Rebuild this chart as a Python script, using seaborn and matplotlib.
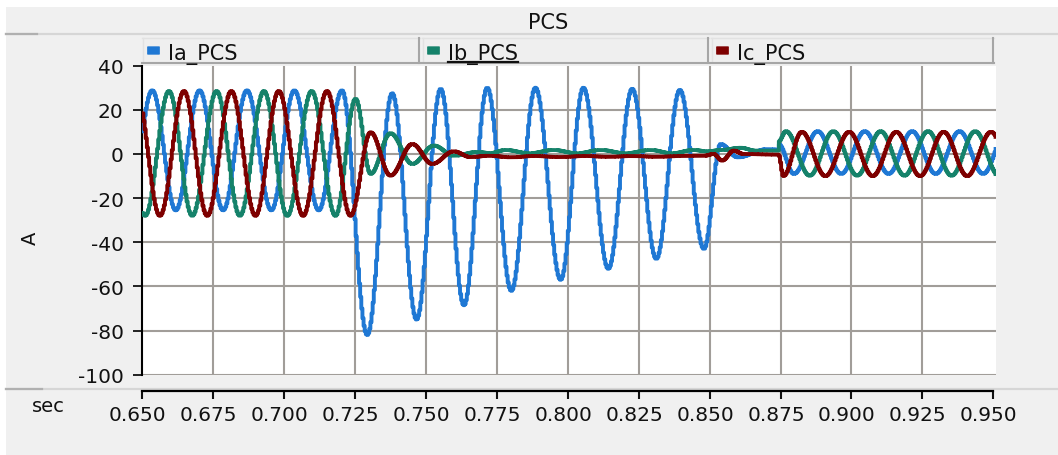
import numpy as np
import pandas as pd
import matplotlib
matplotlib.use("Agg")
import matplotlib.pyplot as plt
from matplotlib.patches import Rectangle, FancyBboxPatch
from matplotlib.lines import Line2D
from matplotlib.transforms import ScaledTranslation
import seaborn as sns

# ---------------------------------------------------------------------------
# PCS phase currents: turning points of each waveform (time in s, current in A)
# A repeated time marks a step change (the restart of the converter).
# ---------------------------------------------------------------------------
ia_t = [0.6450, 0.6533, 0.6616, 0.6700, 0.6783, 0.6867, 0.6953, 0.7034, 0.7120, 0.7202,
        0.7291, 0.7379, 0.7465, 0.7550, 0.7632, 0.7714, 0.7799, 0.7884, 0.7973, 0.8053,
        0.8141, 0.8225, 0.8310, 0.8393, 0.8478,
        0.8537, 0.8597, 0.8702, 0.8741,
        0.8741, 0.8795, 0.8879, 0.8962, 0.9045, 0.9129, 0.9212, 0.9295, 0.9379, 0.9462, 0.9545]
ia_v = [-25.5, 28.8, -25.5, 28.8, -25.5, 28.8, -25.5, 28.8, -25.5, 28.8,
        -82.0, 27.5, -75.0, 29.5, -68.5, 30.0, -62.0, 30.0, -57.0, 30.0,
        -52.0, 29.5, -47.5, 29.0, -43.0,
        4.5, -1.5, 2.2, 2.0,
        4.5, -9.0, 10.3, -9.0, 10.3, -9.0, 10.3, -9.0, 10.3, -9.0, 10.3]

ib_t = [0.6425, 0.6508, 0.6592, 0.6674, 0.6760, 0.6842, 0.6927, 0.7009, 0.7095, 0.7179,
        0.7250, 0.7303, 0.7373, 0.7450, 0.7526, 0.7596, 0.7679, 0.7725, 0.7779, 0.7863,
        0.7948, 0.8031, 0.8114, 0.8202, 0.8290, 0.8366, 0.8441, 0.8490, 0.8540, 0.8607,
        0.8660, 0.8741,
        0.8741, 0.8767, 0.8851, 0.8934, 0.9018, 0.9101, 0.9185, 0.9268, 0.9351, 0.9434, 0.9518]
ib_v = [28.5, -28.0, 28.5, -28.0, 28.5, -28.0, 28.5, -28.0, 28.5, -28.0,
        25.0, -9.0, 9.4, -4.5, 3.8, -0.8, 0.9, 0.4, 1.8, 0.3,
        1.8, 0.3, 1.8, 0.3, 1.8, 0.3, 1.8, 1.2, 1.8, 2.8,
        1.5, 1.5,
        5.6, 10.3, -9.8, 10.3, -9.8, 10.3, -9.8, 10.3, -9.8, 10.3, -9.8]

ic_t = [0.6477, 0.6560, 0.6645, 0.6727, 0.6812, 0.6897, 0.6979, 0.7065, 0.7149, 0.7232,
        0.7303, 0.7373, 0.7450, 0.7520, 0.7596, 0.7655, 0.7720, 0.7800, 0.7880, 0.7970,
        0.8060, 0.8140, 0.8230, 0.8310, 0.8400, 0.8480, 0.8512, 0.8542, 0.8583, 0.8618,
        0.8741, 0.8758, 0.8823, 0.8906, 0.8990, 0.9073, 0.9156, 0.9240, 0.9323, 0.9406,
        0.9490, 0.9573]
ic_v = [28.5, -28.0, 28.5, -28.0, 28.5, -28.0, 28.5, -28.0, 28.5, -28.0,
        9.8, -9.8, 4.5, -4.5, 1.2, -1.4, -0.8, -1.5, -0.9, -1.4,
        -0.9, -1.3, -0.9, -1.3, -0.9, -0.8, 0.0, -3.0, 1.5, 0.0,
        -0.3, -10.0, 10.0, -10.0, 10.0, -10.0, 10.0, -10.0, 10.0, -10.0,
        10.0, -10.0]

series_names = ["Ia_PCS", "Ib_PCS", "Ic_PCS"]
series_colors = ["#1f78d4", "#15826a", "#7e0000"]
x_ticks = [0.650, 0.675, 0.700, 0.725, 0.750, 0.775, 0.800, 0.825, 0.850, 0.875, 0.900, 0.925, 0.950]
y_ticks = [-100, -80, -60, -40, -20, 0, 20, 40]

# plot sample step of the recorded channel
dt = 0.0004
t_grid = 0.65 + np.arange(int(round(0.301 / dt)) + 1) * dt


def trace(knot_t, knot_v, t):
    """Half-cosine path through the turning points, evaluated on the sample grid."""
    kt = np.asarray(knot_t, dtype=float)
    kv = np.asarray(knot_v, dtype=float)
    idx = np.clip(np.searchsorted(kt, t, side="right") - 1, 0, len(kt) - 2)
    t0, t1 = kt[idx], kt[idx + 1]
    v0, v1 = kv[idx], kv[idx + 1]
    span = np.where(t1 > t0, t1 - t0, 1.0)
    frac = np.clip((t - t0) / span, 0.0, 1.0)
    return v0 + (v1 - v0) * (1.0 - np.cos(np.pi * frac)) / 2.0


frames = []
for name, kt, kv in zip(series_names, [ia_t, ib_t, ic_t], [ia_v, ib_v, ic_v]):
    frames.append(pd.DataFrame({"t": t_grid, "A": trace(kt, kv, t_grid), "phase": name}))
df = pd.concat(frames, ignore_index=True)

# ---------------------------------------------------------------------------
W, H = 1058, 456
FS_TICK = 14.5
FS_HEAD = 15
FS_AXIS = 14
TXT = "#111111"
fig = plt.figure(figsize=(W / 100, H / 100), dpi=100, facecolor="white")


def fx(x):
    return x / W


def fy(y):
    return 1 - y / H


# panel background
fig.patches.append(Rectangle((fx(6), 0), 1 - fx(6), fy(8), transform=fig.transFigure,
                             facecolor="#f0f0f0", edgecolor="none", zorder=-10))
# separators under the title band and above the time axis
for yy, dark_end in [(35, 37), (389.5, 42)]:
    fig.add_artist(Line2D([fx(6), 1], [fy(yy), fy(yy)], color="#d6d6d6", lw=1.6, zorder=-5))
    fig.add_artist(Line2D([fx(6), fx(dark_end)], [fy(yy), fy(yy)], color="#b0b0b0", lw=1.6, zorder=-5))

fig.text(fx(548), fy(29), "PCS", ha="center", va="baseline", fontsize=FS_HEAD, color=TXT)

# legend buttons
legend_boxes = [(142, 420), (422, 709), (711, 994)]
legend_texts = []
for (x0, x1), name, col in zip(legend_boxes, series_names, series_colors):
    fig.patches.append(Rectangle((fx(x0), fy(64)), fx(x1 - x0), (64 - 38) / H,
                                 transform=fig.transFigure, facecolor="#efefef",
                                 edgecolor="none", zorder=1))
    fig.add_artist(Line2D([fx(x0), fx(x1)], [fy(38.5), fy(38.5)], color="#e2e2e2", lw=1.0))
    fig.add_artist(Line2D([fx(x0 + 0.5), fx(x0 + 0.5)], [fy(38.5), fy(63)], color="#e2e2e2", lw=1.0))
    fig.add_artist(Line2D([fx(x0), fx(x1)], [fy(63.5), fy(63.5)], color="#a6a6a6", lw=1.5))
    fig.add_artist(Line2D([fx(x1 - 1), fx(x1 - 1)], [fy(38.5), fy(64)], color="#a6a6a6", lw=1.5))
    fig.patches.append(FancyBboxPatch((fx(x0 + 6), fy(55)), fx(11), 7 / H,
                                      boxstyle="round,pad=0.0005", transform=fig.transFigure,
                                      facecolor=col, edgecolor=col, lw=0.5, zorder=2))
    legend_texts.append(fig.text(fx(x0 + 26), fy(60), name, ha="left", va="baseline",
                                 fontsize=FS_HEAD, color=TXT, zorder=3))

# ---------------------------------------------------------------------------
x_lo, x_hi = 0.65, 0.65 + (995.5 - 142.3) / 2836.7
ax = fig.add_axes([fx(142.3), fy(375.7), fx(995.5 - 142.3), (375.7 - 66.7) / H])
ax.set_zorder(5)
ax.set_facecolor("white")

sns.lineplot(data=df, x="t", y="A", hue="phase", hue_order=series_names,
             palette=dict(zip(series_names, series_colors)), estimator=None,
             drawstyle="steps-post", linewidth=2.8, legend=False, ax=ax, zorder=3)

grid_col = "#a19d99"
for xv in x_ticks[1:-1]:
    ax.axvline(xv, color=grid_col, lw=1.5, zorder=1)
for yv in y_ticks[:-1]:
    ax.axhline(yv, color=grid_col, lw=1.5, zorder=1)

ax.set_xlim(x_lo, x_hi)
ax.set_ylim(-100, 40)
ax.set_xticks([])
ax.set_yticks(y_ticks)
ax.set_yticklabels([str(v) for v in y_ticks])
ax.set_xlabel("")
ax.set_ylabel("")
for side in ["top", "right", "bottom"]:
    ax.spines[side].set_visible(False)
ax.spines["left"].set_color("black")
ax.spines["left"].set_linewidth(1.5)
ax.tick_params(axis="y", direction="out", length=6.5, width=1.3, pad=7,
               labelsize=FS_TICK, colors=TXT)

fig.text(fx(30.5), fy(238.5), "A", rotation=90, ha="center", va="center",
         fontsize=FS_AXIS, color=TXT)

# time axis strip below the plot
ax2 = fig.add_axes([fx(142.3), fy(392.3), fx(995.5 - 142.3), 0.001])
ax2.set_zorder(5)
ax2.patch.set_visible(False)
ax2.set_xlim(x_lo, x_hi)
ax2.set_yticks([])
for side in ["top", "right", "left"]:
    ax2.spines[side].set_visible(False)
ax2.spines["bottom"].set_color("black")
ax2.spines["bottom"].set_linewidth(1.6)
ax2.spines["bottom"].set_bounds(0.65, 0.95)
ax2.set_xticks(x_ticks)
ax2.set_xticklabels([f"{v:.3f}" for v in x_ticks])
ax2.tick_params(axis="x", direction="out", length=5.8, width=1.5, pad=4,
                labelsize=FS_TICK, colors=TXT)
shift = ScaledTranslation(-4.5 / 100, 0, fig.dpi_scale_trans)
for lab in ax2.get_xticklabels():
    lab.set_transform(lab.get_transform() + shift)

fig.text(fx(32), fy(412), "sec", ha="left", va="baseline", fontsize=FS_AXIS, color=TXT)

# the Ib entry is the focused one: underline its caption
fig.canvas.draw()
bb = legend_texts[1].get_window_extent()
fig.add_artist(Line2D([bb.x0 / W, bb.x1 / W], [fy(62.5), fy(62.5)],
                      color=TXT, lw=1.6, zorder=4))

fig.savefig("out.png", dpi=100, facecolor=fig.get_facecolor())
